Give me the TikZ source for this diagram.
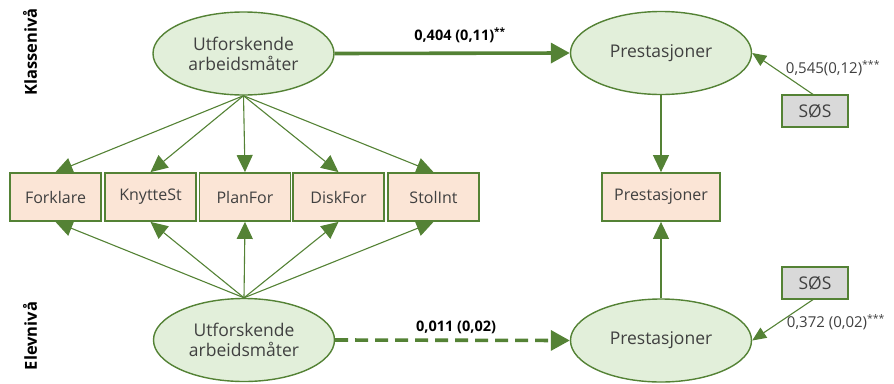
\documentclass[tikz,border=0pt]{standalone}
\usepackage{fontspec}
\setmainfont{Open Sans}
\usetikzlibrary{arrows.meta}
\usetikzlibrary{shapes.geometric}

\definecolor{semgreen}{HTML}{548235}
\definecolor{latentfill}{HTML}{E2EFDA}
\definecolor{itemfill}{HTML}{FBE5D6}
\definecolor{sosfill}{HTML}{D9D9D9}
\definecolor{semtext}{HTML}{404040}

\begin{document}
\begin{tikzpicture}[x=1pt,y=-1pt,
    latent/.style={ellipse,draw=semgreen,line width=1.4pt,fill=latentfill,
      minimum width=181pt,minimum height=83pt,inner sep=0pt,align=center,
      text=semtext,font=\fontsize{17.5}{20}\selectfont},
    item/.style={rectangle,draw=semgreen,line width=1.8pt,fill=itemfill,
      minimum width=91pt,minimum height=48pt,inner sep=0pt,
      text=semtext,font=\fontsize{16}{18}\selectfont},
    sos/.style={rectangle,draw=semgreen,line width=1.2pt,fill=sosfill,
      minimum width=66pt,minimum height=32pt,inner sep=0pt,
      text=semtext,font=\fontsize{17.5}{20}\selectfont},
    load/.style={draw=semgreen,line width=1.1pt,arrows={-Triangle[length=17pt,width=16pt]}},
    sospath/.style={draw=semgreen,line width=1.1pt,arrows={-Triangle[length=14pt,width=12pt]}},
    path/.style={draw=semgreen,line width=3.6pt,arrows={-Triangle[length=19pt,width=20pt]}},
    estimate/.style={text=black,font=\bfseries\fontsize{14.5}{16}\selectfont},
    sosest/.style={text=semtext,font=\fontsize{15}{17}\selectfont},
    level/.style={rotate=90,font=\bfseries\fontsize{16.5}{19}\selectfont}]

  \useasboundingbox (0,0) rectangle (894,383);

  %% level labels
  \node[level] (lbl/klasse) at (30,52) {Klassenivå};
  \node[level] (lbl/elev) at (30,336) {Elevnivå};

  %% latent variables
  \node[latent] (klasse/utf) at (243.5,53.5) {Utforskende\\arbeidsmåter};
  \node[latent] (klasse/pre) at (661,53) {Prestasjoner};
  \node[latent] (elev/utf) at (244,340) {Utforskende\\arbeidsmåter};
  \node[latent] (elev/pre) at (661,340.5) {Prestasjoner};

  %% indicators
  \def\myitems{Forklare/55.5,KnytteSt/150.5,PlanFor/245,DiskFor/338.5,StolInt/433.5}
  \foreach \myname/\myx in \myitems
  {
    \node[item] (item/\myname) at (\myx,197) {\myname};
  }
  \node[item,minimum width=118pt] (item/pre) at (661,197) {Prestasjoner};

  %% SØS boxes
  \node[sos] (sos/klasse) at (815,111) {SØS};
  \node[sos] (sos/elev) at (815,283) {SØS};

  %% loadings, both levels
  \foreach \myname/\myx in \myitems
  {
    \draw[load] (klasse/utf.south) -- (item/\myname.north);
    \draw[load] (elev/utf.north) -- (item/\myname.south);
  }
  \draw[load] (klasse/pre.south) -- (item/pre.north);
  \draw[load] (elev/pre.north) -- (item/pre.south);

  %% structural paths
  \draw[path] (klasse/utf.east) -- (klasse/pre.west);
  \node[estimate] (est/klasse) at (460,35) {0,404 (0,11)\textsuperscript{**}};
  \draw[path,dash pattern=on 13pt off 7pt] (elev/utf.east) -- (elev/pre.west);
  \node[estimate] (est/elev) at (456,327) {0,011 (0,02)};

  %% SØS paths
  \draw[sospath] ([xshift=-2pt]sos/klasse.north) -- (klasse/pre.east);
  \node[sosest] (est/sosklasse) at (833,68) {0,545(0,12)\textsuperscript{***}};
  \draw[sospath] ([xshift=-2pt]sos/elev.south) -- (elev/pre.east);
  \node[sosest] (est/soselev) at (836,322) {0,372 (0,02)\textsuperscript{***}};

\end{tikzpicture}
\end{document}
